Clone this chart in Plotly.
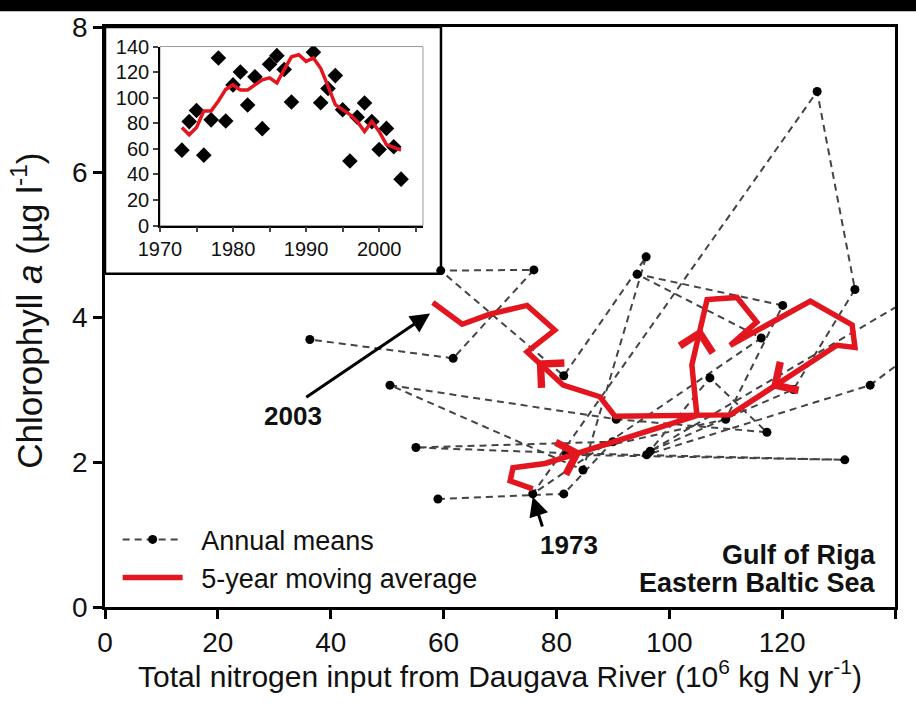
import plotly.graph_objects as go

# Annual means, 1973-2003 (total N input from the Daugava vs chlorophyll a)
years = list(range(1973, 2004))
n_input = [59.0, 81.3, 90.0, 55.1, 82.7, 131.1, 81.8, 110.0, 120.1, 94.3,
           116.3, 75.8, 126.2, 132.9, 122.0, 96.6, 158.0, 162.0, 135.6, 96.0,
           107.2, 117.3, 90.6, 50.5, 84.7, 95.9, 81.3, 59.5, 76.0, 61.7, 36.3]
chl = [1.49, 1.56, 2.28, 2.20, 2.12, 2.03, 2.10, 2.59, 4.16, 4.59,
       3.71, 1.56, 7.11, 4.38, 3.00, 2.15, 4.95, 4.60, 3.06, 2.10,
       3.16, 2.41, 2.59, 3.06, 1.89, 4.83, 3.19, 4.64, 4.65, 3.43, 3.69]

# 5-year moving average path (N input, chlorophyll a)
ma_n = [75.8, 71.8, 72.3, 78.0, 104.9, 104.0, 106.7, 112.0, 115.5, 110.8,
        125.0, 132.4, 132.9, 129.7, 110.8, 90.4, 87.7, 81.2, 74.8, 79.7,
        74.8, 68.2, 63.3, 58.1]
ma_chl = [1.63, 1.74, 1.92, 1.98, 2.64, 3.34, 4.24, 4.27, 3.93, 3.61,
          4.22, 3.89, 3.58, 3.61, 2.65, 2.63, 2.90, 3.06, 3.52, 3.82,
          4.16, 4.04, 3.90, 4.20]

# Inset: 5-year moving average of N input by year
inset_ma = [76.7, 71.0, 76.7, 89.7, 89.7, 97.4, 106.5, 110.0, 106.0, 106.0,
            110.0, 114.0, 115.5, 111.6, 122.0, 132.0, 133.6, 128.4, 131.0, 123.0,
            109.0, 94.6, 90.7, 86.8, 81.4, 73.6, 81.4, 73.6, 63.3, 61.0, 59.0]

x_ticks = [0, 20, 40, 60, 80, 100, 120, 140]
y_ticks = [0, 2, 4, 6, 8]
inset_x_ticks = [1970, 1980, 1990, 2000]
inset_y_ticks = [0, 20, 40, 60, 80, 100, 120, 140]

RED = "#e3161f"
FONT = "Liberation Sans, Arial, Helvetica, sans-serif"
INK = "#111111"

fig = go.Figure()

fig.add_trace(go.Scatter(
    x=n_input, y=chl, mode="lines+markers", name="\u2002Annual means",
    line=dict(color="#444444", width=2, dash="7px,5px"),
    marker=dict(color="black", size=9),
))
fig.add_trace(go.Scatter(
    x=ma_n, y=ma_chl, mode="lines", name="\u20025-year moving average",
    line=dict(color=RED, width=5.5),
))

# Inset time series
fig.add_trace(go.Scatter(
    x=years, y=n_input, mode="markers", xaxis="x2", yaxis="y2",
    marker=dict(symbol="diamond", color="black", size=12), showlegend=False,
))
fig.add_trace(go.Scatter(
    x=years, y=inset_ma, mode="lines", xaxis="x2", yaxis="y2",
    line=dict(color=RED, width=3.5), showlegend=False,
))

axis_common = dict(
    showline=True, linecolor="black", linewidth=2.5, mirror=True,
    ticks="outside", ticklen=9, tickwidth=2.5, tickcolor="black",
    showgrid=False, zeroline=False,
    tickfont=dict(family=FONT, size=28, color=INK),
)

fig.update_layout(
    width=916, height=707,
    margin=dict(l=105, r=21, t=22, b=100),
    paper_bgcolor="white", plot_bgcolor="rgba(0,0,0,0)",
    font=dict(family=FONT, color=INK),
    xaxis=dict(range=[0, 140], tickvals=x_ticks, **axis_common),
    yaxis=dict(range=[0, 8], tickvals=y_ticks, **axis_common),
    xaxis2=dict(
        domain=[0.0696, 0.4025], anchor="y2", range=[1970, 2006],
        tickvals=inset_x_ticks, showline=True, linecolor="black", linewidth=1.5,
        ticks="outside", ticklen=5, tickwidth=1.5,
        minor=dict(dtick=5, ticks="outside", ticklen=5, tickwidth=1.5, tick0=1970),
        showgrid=False, zeroline=False,
        tickfont=dict(family=FONT, size=20, color=INK),
    ),
    yaxis2=dict(
        domain=[0.6576, 0.9663], anchor="x2", range=[0, 140],
        tickvals=inset_y_ticks, showline=True, linecolor="black", linewidth=1.5,
        ticks="outside", ticklen=5, tickwidth=1.5,
        showgrid=False, zeroline=False,
        tickfont=dict(family=FONT, size=20, color=INK),
    ),
    legend=dict(
        x=0.016, y=0.158, xanchor="left", yanchor="top",
        bgcolor="rgba(0,0,0,0)", itemwidth=60,
        font=dict(family=FONT, size=27, color=INK),
        tracegroupgap=0,
    ),
)

shapes = [
    # inset plot-area frame
    dict(type="rect", xref="x2 domain", yref="y2 domain", x0=0, x1=1, y0=0, y1=1,
         line=dict(color="#9a9a9a", width=1), layer="below"),
    # inset outer box
    dict(type="rect", xref="paper", yref="paper", x0=0, x1=0.4253, y0=0.5744, y1=1.0,
         line=dict(color="black", width=2.5), layer="above"),
    # dark strip along the top edge
    dict(type="rect", xref="paper", yref="paper", x0=-0.2, x1=1.1, y0=1.027, y1=1.05,
         line=dict(width=0), fillcolor="black", layer="above"),
]
fig.update_layout(shapes=shapes)

annotations = [
    dict(xref="paper", yref="paper", x=0.5, y=-0.116, xanchor="center", yanchor="middle",
         text="Total nitrogen input from Daugava River (10<sup>6</sup> kg N yr<sup>-1</sup>)",
         showarrow=False, font=dict(family=FONT, size=30, color=INK)),
    dict(xref="paper", yref="paper", x=-0.098, y=0.51, xanchor="center", yanchor="middle",
         text="Chlorophyll <i>a</i> (µg l<sup>-1</sup>)", textangle=-90,
         showarrow=False, font=dict(family=FONT, size=35, color=INK)),
    dict(xref="paper", yref="paper", x=0.978, y=0.089, xanchor="right", yanchor="middle",
         text="<b>Gulf of Riga</b>", showarrow=False,
         font=dict(family=FONT, size=27, color=INK)),
    dict(xref="paper", yref="paper", x=0.978, y=0.041, xanchor="right", yanchor="middle",
         text="<b>Eastern Baltic Sea</b>", showarrow=False,
         font=dict(family=FONT, size=27, color=INK)),
    # year labels and pointers
    dict(x=33.3, y=2.64, text="<b>2003</b>", showarrow=False,
         font=dict(family=FONT, size=26, color=INK)),
    dict(x=57.6, y=4.05, ax=35.4, ay=2.88, axref="x", ayref="y", text="",
         showarrow=True, arrowhead=2, arrowsize=1.3, arrowwidth=3, arrowcolor="black"),
    dict(x=82.2, y=0.85, text="<b>1973</b>", showarrow=False,
         font=dict(family=FONT, size=26, color=INK)),
    dict(x=75.8, y=1.52, ax=77.6, ay=1.09, axref="x", ayref="y", text="",
         showarrow=True, arrowhead=2, arrowsize=1.3, arrowwidth=3, arrowcolor="black"),
]

# direction markers along the moving-average path
red_arrows = [
    (84.5, 2.14, 80.0, 2.03),
    (105.6, 3.85, 104.5, 3.45),
    (118.0, 3.02, 122.0, 3.22),
    (76.5, 3.40, 80.0, 3.15),
]
for tx, ty, sx, sy in red_arrows:
    annotations.append(dict(
        x=tx, y=ty, ax=sx, ay=sy, axref="x", ayref="y", text="",
        showarrow=True, arrowhead=4, arrowsize=2.6, arrowwidth=2.5, arrowcolor=RED,
    ))

fig.update_layout(annotations=annotations)

fig.write_html("out.html")
